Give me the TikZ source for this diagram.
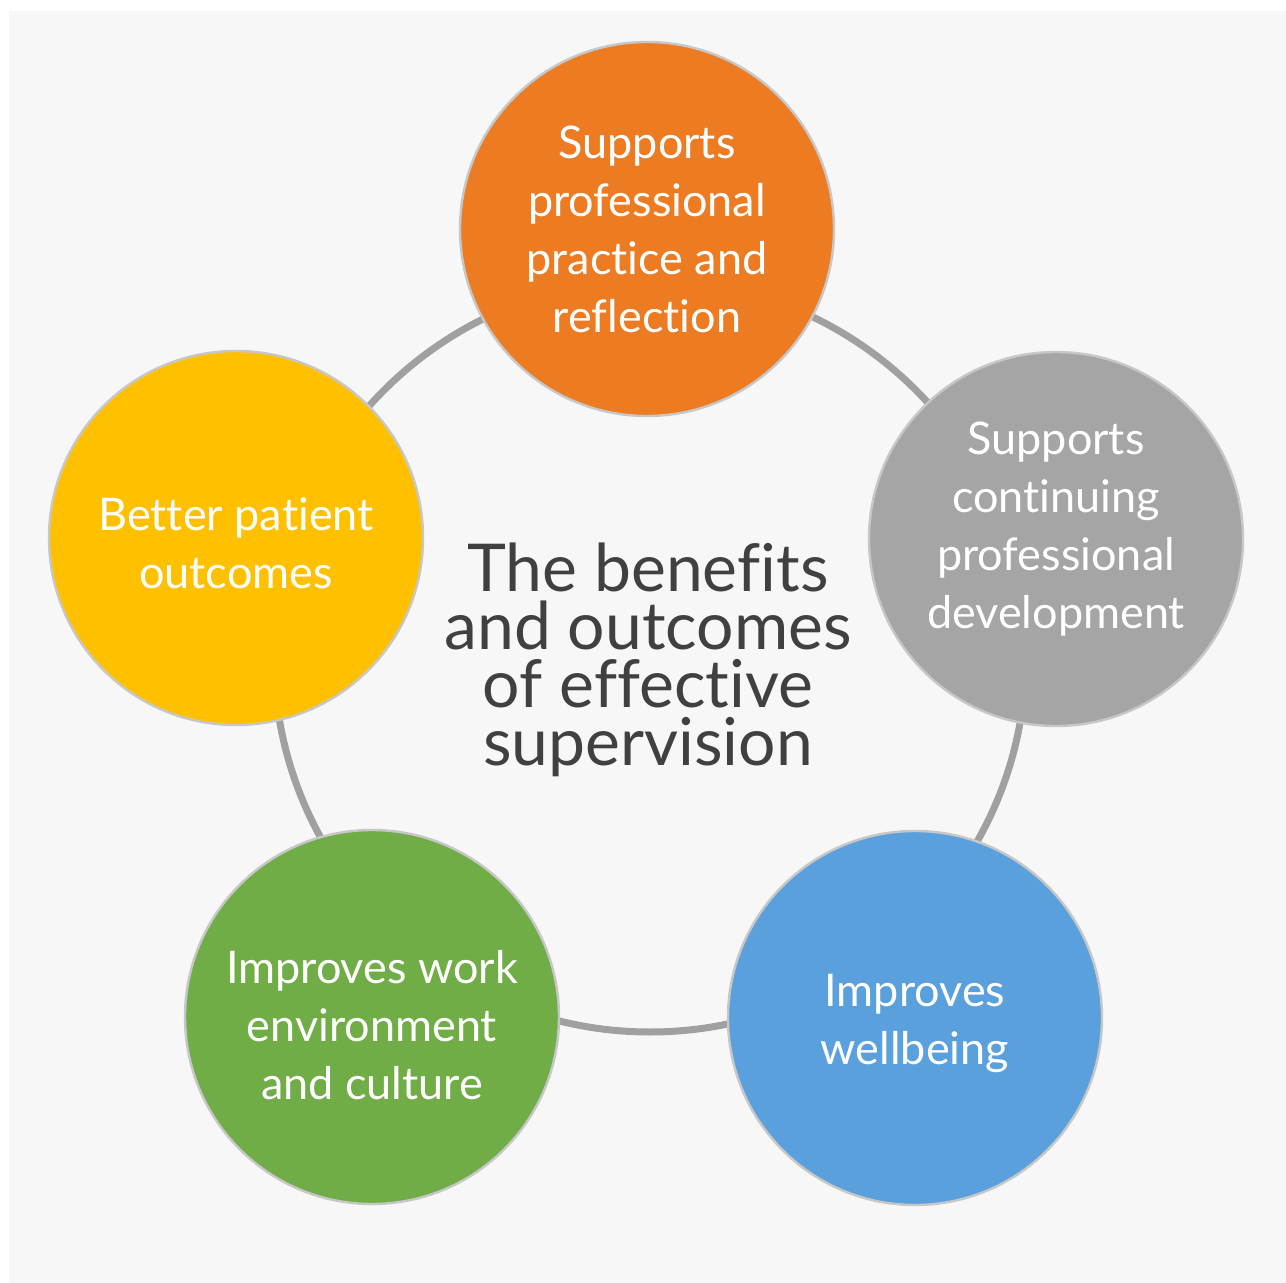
\documentclass[tikz,border=0pt]{standalone}
\usepackage{fontspec}
\setmainfont{Lato}[Ligatures=NoCommon]
\definecolor{bgfill}{HTML}{F7F7F7}
\definecolor{ringgrey}{HTML}{A0A0A0}
\definecolor{corange}{HTML}{EC7B22}
\definecolor{cgrey}{HTML}{A5A5A5}
\definecolor{cblue}{HTML}{5AA0DC}
\definecolor{cgreen}{HTML}{70AD47}
\definecolor{cyellow}{HTML}{FFC000}
\definecolor{titletext}{HTML}{404040}
\tikzset{
  bubble/.style={circle, minimum size=187pt, inner sep=0pt, draw=black!22, line width=1.2pt},
  bubbletext/.style={text=white, align=center, inner sep=0pt, font=\fontsize{22.5}{29}\selectfont},
  ringline/.style={draw=ringgrey, line width=3.5pt},
  titlenode/.style={align=center, text=titletext, font=\fontsize{33}{29}\selectfont}
}
\begin{document}
\begin{tikzpicture}[x=0.5pt, y=-0.5pt]
\useasboundingbox (0,0) rectangle (1286,1283);
\fill[white] (0,0) rectangle (1286,1283);
\fill[bgfill] (9,11) rectangle (1286,1283);
\coordinate (ringc) at (650,656);
\draw[ringline] (ringc) circle [radius=188pt];
\node[bubble, fill=corange] (orange) at (647,229) {};
\node[bubble, fill=cgrey] (grey) at (1056,539) {};
\node[bubble, fill=cblue] (blue) at (915,1018) {};
\node[bubble, fill=cgreen] (green) at (372,1017) {};
\node[bubble, fill=cyellow] (yellow) at (236,538) {};
\node[bubbletext] (orangetext) at (orange.center) {Supports\\professional\\practice and\\reflection};
\node[bubbletext] (greytext) at ([yshift=5pt]grey.center) {Supports\\continuing\\professional\\development};
\node[bubbletext] (bluetext) at ([yshift=-2.5pt]blue.center) {Improves\\wellbeing};
\node[bubbletext] (greentext) at ([yshift=-4pt]green.center) {Improves work\\environment\\and culture};
\node[bubbletext] (yellowtext) at ([yshift=-2.5pt]yellow.center) {Better patient\\outcomes};
\node[titlenode] (title) at (648,660) {The benefits\\and outcomes\\of effective\\supervision};
\end{tikzpicture}
\end{document}
